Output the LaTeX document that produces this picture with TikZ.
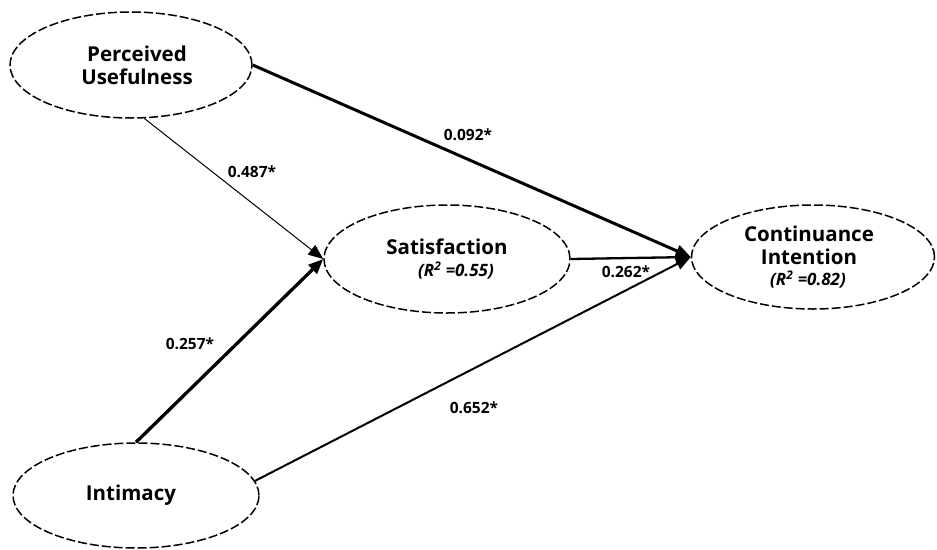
\documentclass[tikz,border=0pt]{standalone}
\usepackage{fontspec}
\setmainfont{Open Sans}
\usetikzlibrary{shapes.geometric,arrows.meta}
\begin{document}
\begin{tikzpicture}[x=1pt,y=-1pt,
  latent/.style={ellipse,draw=black,line width=1.5pt,dash pattern=on 9pt off 3pt,
    inner sep=0pt,align=center,font=\fontsize{20.5}{23}\selectfont\bfseries},
  path/.style={-{Triangle[length=15pt,width=12pt]}},
  coef/.style={font=\fontsize{15.5}{17}\selectfont\bfseries,inner sep=0pt}]
\useasboundingbox (0,0) rectangle (937,549);
\node[latent,minimum width=242pt,minimum height=106pt] (pu) at (131,65)
  {\hspace*{12pt}Perceived\\\hspace*{12pt}Usefulness};
\node[latent,minimum width=246pt,minimum height=108pt] (sat) at (447,259)
  {Satisfaction\\[-1pt]\hspace*{18pt}{\fontsize{17}{19}\selectfont\itshape(R\textsuperscript{2} =0.55)}};
\node[latent,minimum width=243pt,minimum height=104pt] (ci) at (813,257)
  {\hspace*{-8pt}Continuance\\\hspace*{-8pt}Intention\\[-2pt]\hspace*{-10pt}{\fontsize{17}{19}\selectfont\itshape(R\textsuperscript{2} =0.82)}};
\node[latent,minimum width=246pt,minimum height=105pt] (int) at (136,495.5)
  {\hspace*{-10pt}Intimacy};
\draw[path,line width=3pt] (pu.east) -- (ci.west);
\draw[path,line width=1pt] (pu.-76.5) -- (sat.west);
\draw[path,line width=3.3pt] (int.north) -- (sat.west);
\draw[path,line width=2.3pt] (sat.east) -- (ci.west);
\draw[path,line width=2pt] (int.7.5) -- (ci.west);
\node[coef] (c1) at (252,172) {0.487*};
\node[coef] (c2) at (468,135) {0.092*};
\node[coef] (c3) at (626,272) {0.262*};
\node[coef] (c4) at (190,344) {0.257*};
\node[coef] (c5) at (474,408) {0.652*};
\end{tikzpicture}
\end{document}
